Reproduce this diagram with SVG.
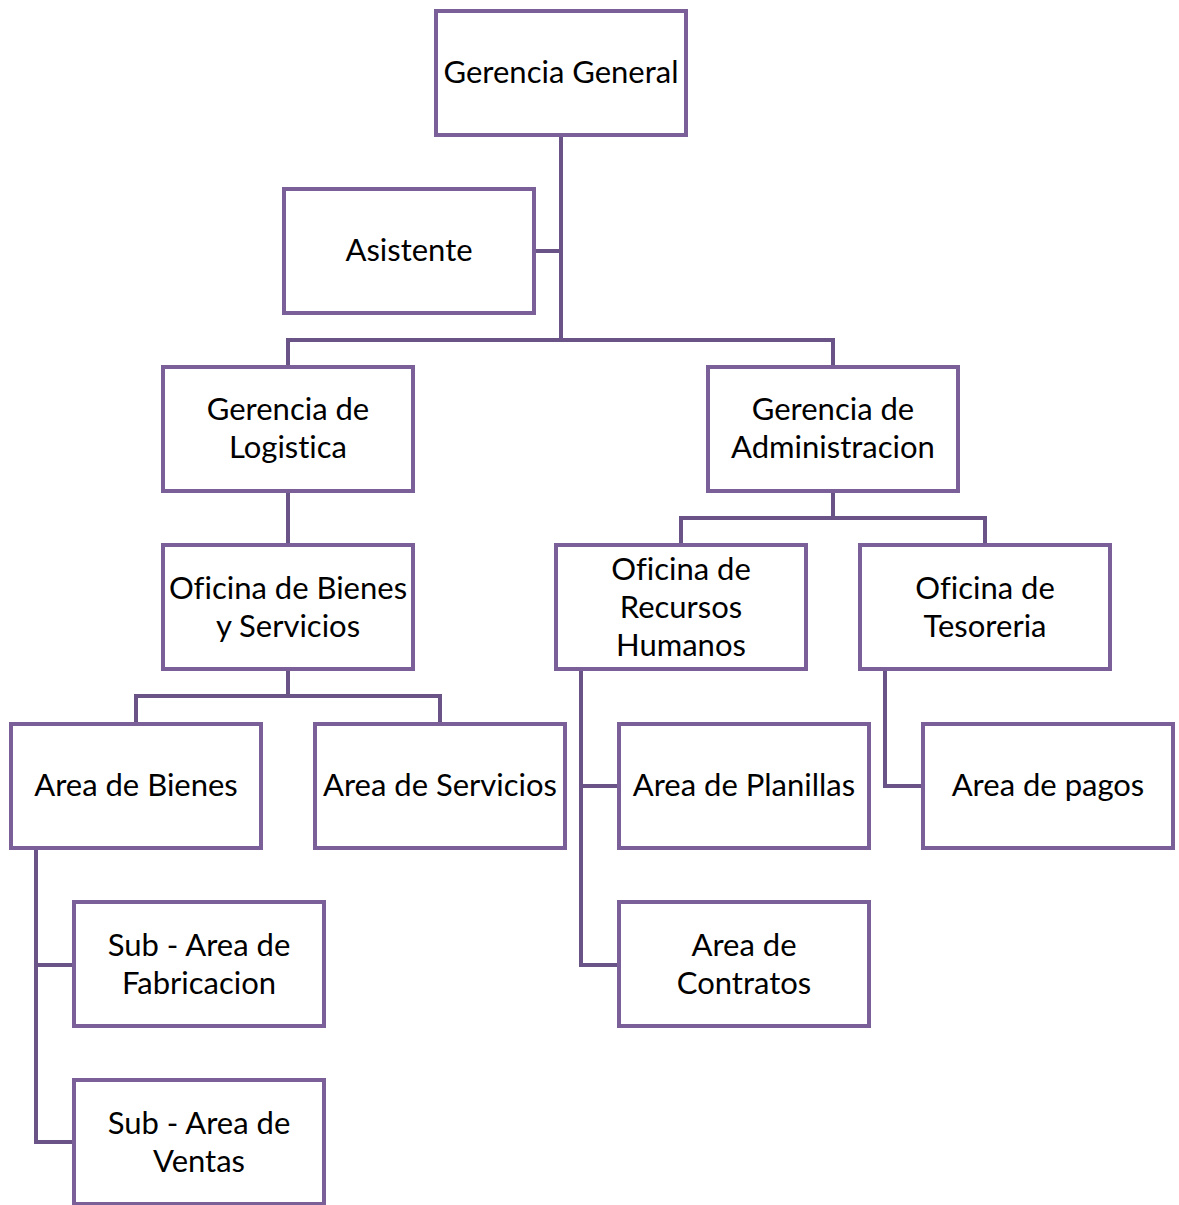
<svg xmlns="http://www.w3.org/2000/svg" width="1179" height="1205" viewBox="0 0 1179 1205">
<style>
.box{fill:#fff;stroke:#7a5f98;stroke-width:4}
.c{fill:none;stroke:#6a5387;stroke-width:4}
text{font-family:Lato,"Liberation Sans",sans-serif;font-size:31px;fill:#000;text-anchor:middle;font-variant-ligatures:none}
</style>
<rect width="1179" height="1205" fill="#fff"/>
<g id="connectors">
<path class="c" d="M561 136V340M536 251H561M288 365V340H833V365"/>
<path class="c" d="M288 493V543"/>
<path class="c" d="M833 493V518M681 543V518H985V543"/>
<path class="c" d="M288 671V696M136 722V696H440V722"/>
<path class="c" d="M36 850V1142H72M36 965H72"/>
<path class="c" d="M581 671V965H617M581 786H617"/>
<path class="c" d="M885 671V786H921"/>
</g>
<g id="n1"><rect class="box" x="436" y="11" width="250" height="124"/><text x="561" y="83">Gerencia General</text></g>
<g id="n2"><rect class="box" x="284" y="189" width="250" height="124"/><text x="409" y="261">Asistente</text></g>
<g id="n3"><rect class="box" x="163" y="367" width="250" height="124"/><text x="288" y="420">Gerencia de</text><text x="288" y="458">Logistica</text></g>
<g id="n4"><rect class="box" x="708" y="367" width="250" height="124"/><text x="833" y="420">Gerencia de</text><text x="833" y="458">Administracion</text></g>
<g id="n5"><rect class="box" x="163" y="545" width="250" height="124"/><text x="288" y="599">Oficina de Bienes</text><text x="288" y="637">y Servicios</text></g>
<g id="n6"><rect class="box" x="556" y="545" width="250" height="124"/><text x="681" y="580">Oficina de</text><text x="681" y="618">Recursos</text><text x="681" y="656">Humanos</text></g>
<g id="n7"><rect class="box" x="860" y="545" width="250" height="124"/><text x="985" y="599">Oficina de</text><text x="985" y="637">Tesoreria</text></g>
<g id="n8"><rect class="box" x="11" y="724" width="250" height="124"/><text x="136" y="796">Area de Bienes</text></g>
<g id="n9"><rect class="box" x="315" y="724" width="250" height="124"/><text x="440" y="796">Area de Servicios</text></g>
<g id="n10"><rect class="box" x="619" y="724" width="250" height="124"/><text x="744" y="796">Area de Planillas</text></g>
<g id="n11"><rect class="box" x="923" y="724" width="250" height="124"/><text x="1048" y="796">Area de pagos</text></g>
<g id="n12"><rect class="box" x="74" y="902" width="250" height="124"/><text x="199" y="956">Sub - Area de</text><text x="199" y="994">Fabricacion</text></g>
<g id="n13"><rect class="box" x="619" y="902" width="250" height="124"/><text x="744" y="956">Area de</text><text x="744" y="994">Contratos</text></g>
<g id="n14"><rect class="box" x="74" y="1080" width="250" height="124"/><text x="199" y="1134">Sub - Area de</text><text x="199" y="1172">Ventas</text></g>
</svg>
